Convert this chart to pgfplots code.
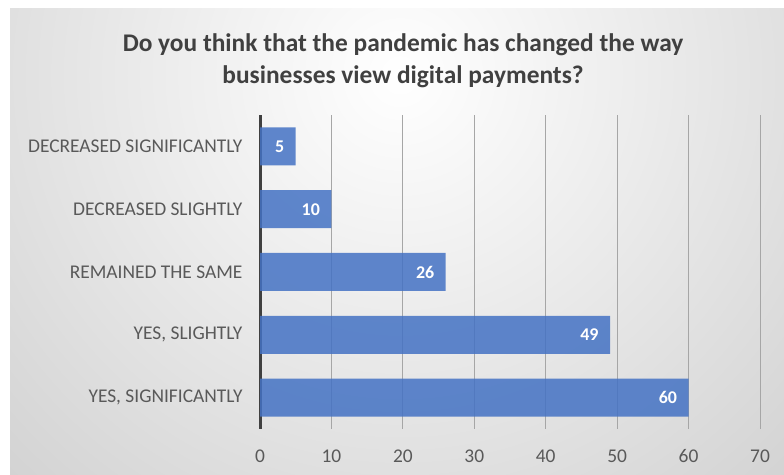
\documentclass[border=0pt]{standalone}
\usepackage{pgfplots}
\pgfplotsset{compat=1.18}
\usepackage{fontspec}
\setmainfont{Carlito}
\definecolor{barblue}{RGB}{68,114,196}
\definecolor{titlegray}{RGB}{64,64,64}
\definecolor{labelgray}{RGB}{89,89,89}
\definecolor{bgouter}{RGB}{192,192,192}
\begin{document}
\begin{tikzpicture}[x=1bp,y=1bp]
% page background and shaded chart area
\fill[white] (0,0) rectangle (784,475);
\begin{scope}
  \clip (10,0) rectangle (784,466);
  \shade[inner color=white, outer color=bgouter] (-400,-400) rectangle (1200,1200);
\end{scope}
\node[font=\fontsize{25.5}{32}\selectfont\bfseries, text=titlegray, align=center]
  at (403,414) {Do you think that the pandemic has changed the way\\businesses view digital payments?};
\begin{axis}[
  at={(260bp,46bp)}, anchor=south west,
  scale only axis, width=500bp, height=314bp,
  xbar, bar width=38bp,
  xmin=0, xmax=70, xtick={0,10,...,70},
  ymin=-0.5, ymax=4.5, ytick={0,...,4},
  yticklabels={{YES, SIGNIFICANTLY},{YES, SLIGHTLY},{REMAINED THE SAME},{DECREASED SLIGHTLY},{DECREASED SIGNIFICANTLY}},
  axis y line*=left, axis x line*=bottom,
  x axis line style={draw=none},
  y axis line style={line width=3bp, draw=titlegray, -},
  major tick length=0pt,
  xmajorgrids, grid style={gray!70, line width=1bp},
  tick label style={font=\fontsize{19.5}{22}\selectfont, text=labelgray},
  yticklabel style={xshift=-14bp},
  xticklabel style={yshift=-17bp},
  /pgf/number format/assume math mode=true,
  nodes near coords, point meta=x,
  every node near coord/.append style={anchor=east, xshift=-8bp, text=white,
    fill opacity=1, text opacity=1, font=\fontsize{18}{20}\selectfont\bfseries},
  clip=false,
]
\addplot[fill=barblue, fill opacity=0.85, draw=none] coordinates {(60,0) (49,1) (26,2) (10,3) (5,4)};
\end{axis}
\end{tikzpicture}
\end{document}
